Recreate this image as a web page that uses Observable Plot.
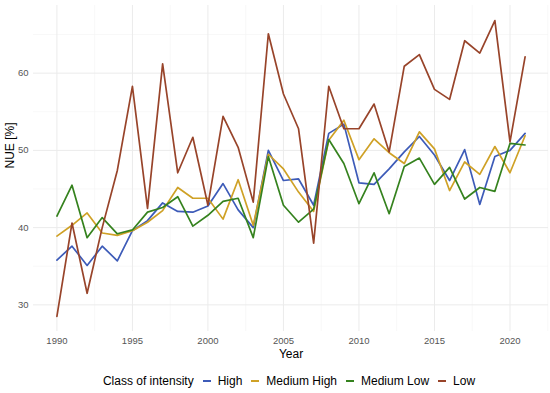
<!DOCTYPE html>
<html>
<head>
<meta charset="utf-8">
<script src="https://cdn.jsdelivr.net/npm/d3@7"></script>
<script src="https://cdn.jsdelivr.net/npm/@observablehq/plot@0.6"></script>
<style>
  body { margin: 0; background: #fff; font-family: "Liberation Sans", Arial, sans-serif; }
  #wrap { width: 550px; height: 393px; position: relative; }
  .legend { display: flex; justify-content: center; align-items: center; font-size: 12px; color: #000; height: 30px; margin-left: 28px; padding-top: 3px; }
  .legend .sw { display: inline-block; width: 8px; height: 2px; margin: 0 7px 0 9px; }
</style>
</head>
<body>
<div id="wrap"></div>
<script>
const years = d3.range(1990, 2022);
const classes = ["High", "Medium High", "Medium Low", "Low"];
const colors = ["#3d5bb8", "#cfa126", "#35821e", "#98442a"];

const high = [35.8, 37.6, 35.1, 37.6, 35.7, 39.6, 40.9, 43.2, 42.1, 42.0, 42.8, 45.7, 42.3, 40.0, 50.0, 46.1, 46.3, 42.9, 52.2, 53.4, 45.8, 45.6, 47.6, 49.8, 51.8, 49.4, 46.1, 50.1, 43.0, 49.2, 50.0, 52.2];
const mediumHigh = [38.9, 40.3, 41.9, 39.3, 39.0, 39.6, 40.7, 42.2, 45.2, 43.8, 43.8, 41.1, 46.2, 40.3, 49.5, 47.6, 44.6, 42.1, 51.3, 53.9, 48.8, 51.5, 49.7, 48.3, 52.4, 50.2, 44.8, 48.5, 46.9, 50.5, 47.1, 51.9];
const mediumLow = [41.5, 45.5, 38.7, 41.3, 39.2, 39.7, 42.0, 42.6, 44.0, 40.2, 41.6, 43.4, 43.8, 38.7, 49.2, 42.9, 40.7, 42.4, 51.4, 48.3, 43.1, 47.1, 41.8, 47.9, 49.0, 45.6, 47.8, 43.7, 45.2, 44.7, 50.9, 50.7];
const low = [28.5, 40.6, 31.5, 40.0, 47.4, 58.3, 42.5, 61.2, 47.1, 51.7, 42.9, 54.4, 50.4, 43.3, 65.1, 57.3, 52.8, 38.0, 58.3, 52.8, 52.8, 56.0, 49.8, 60.9, 62.4, 57.9, 56.6, 64.2, 62.6, 66.8, 51.1, 62.1];

const xMajor = [1990, 1995, 2000, 2005, 2010, 2015, 2020];
const xMinor = [1992.5, 1997.5, 2002.5, 2007.5, 2012.5, 2017.5, 2022.5];
const yMajor = [30, 40, 50, 60];
const yMinor = [35, 45, 55, 65];

const series = [high, mediumHigh, mediumLow, low];
const data = [];
classes.forEach((c, i) => years.forEach((y, j) => data.push({ year: y, value: series[i][j], cls: c })));

const chart = Plot.plot({
  width: 550,
  height: 363,
  marginLeft: 33,
  marginRight: 2,
  marginTop: 5,
  marginBottom: 32,
  style: { fontFamily: "Liberation Sans, Arial, sans-serif", background: "#fff" },
  x: { domain: [1988.45, 2022.55] },
  y: { domain: [26.55, 68.76] },
  color: { domain: classes, range: colors },
  marks: [
    Plot.ruleX(xMinor, { stroke: "#f3f3f3", strokeWidth: 0.6 }),
    Plot.ruleY(yMinor, { stroke: "#f3f3f3", strokeWidth: 0.6 }),
    Plot.ruleX(xMajor, { stroke: "#ebebeb", strokeWidth: 1 }),
    Plot.ruleY(yMajor, { stroke: "#ebebeb", strokeWidth: 1 }),
    Plot.axisX({ ticks: xMajor, tickSize: 0, tickPadding: 6, tickFormat: d => String(d), fontSize: 9.5, color: "#555", label: null }),
    Plot.axisY({ ticks: yMajor, tickSize: 0, tickPadding: 5, fontSize: 9.5, color: "#555", label: null }),
    Plot.text(["Year"], { frameAnchor: "bottom", lineAnchor: "middle", dy: 23, fontSize: 12, fill: "#000", text: d => d }),
    Plot.text(["NUE [%]"], { frameAnchor: "left", dx: -23, rotate: -90, fontSize: 12, fill: "#000", text: d => d }),
    Plot.line(data, { x: "year", y: "value", z: "cls", stroke: "cls", strokeWidth: 1.7, strokeLinejoin: "round" })
  ]
});

const wrap = document.getElementById("wrap");
wrap.appendChild(chart);

const legend = document.createElement("div");
legend.className = "legend";
let html = '<span>Class of intensity</span>';
classes.forEach((c, i) => {
  html += `<span class="sw" style="background:${colors[i]}"></span><span>${c}</span>`;
});
legend.innerHTML = html;
wrap.appendChild(legend);
</script>
</body>
</html>
